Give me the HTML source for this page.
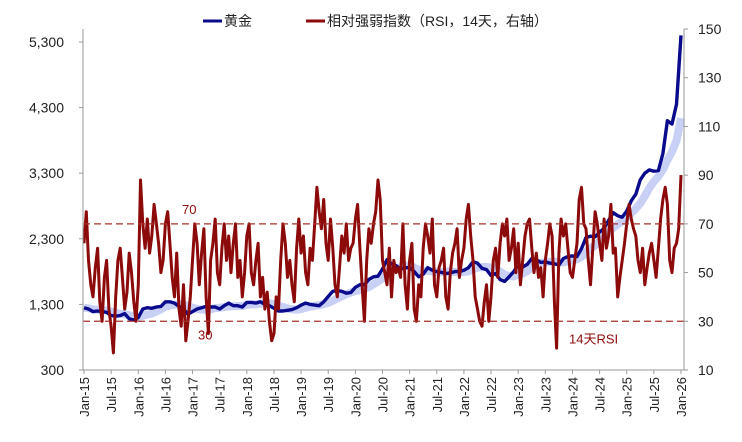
<!DOCTYPE html>
<html><head><meta charset="utf-8">
<style>
body{margin:0;background:#fff;}
svg{display:block;font-family:"Liberation Sans","Noto Sans CJK SC",sans-serif;}
</style></head>
<body>
<svg id="chart" width="742" height="442" viewBox="0 0 742 442">
<g id="plot"></g>
<g id="axes"></g>
<g>
  <g>
    <line x1="203" y1="21" x2="222" y2="21" stroke="#0a0a8c" stroke-width="3"/>
    <text x="224" y="26" font-size="14" fill="#222">黄金</text>
  </g>
  <g>
    <line x1="306" y1="21" x2="325" y2="21" stroke="#8c0a0a" stroke-width="3"/>
    <text x="327" y="26" font-size="14" fill="#222">相对强弱指数（RSI，14天，右轴）</text>
  </g>
</g>
</svg>
<script>
const leftTicks=[300,1300,2300,3300,4300,5300];
const rightTicks=[10,30,50,70,90,110,130,150];
const xLabels=["Jan-15","Jul-15","Jan-16","Jul-16","Jan-17","Jul-17","Jan-18","Jul-18","Jan-19","Jul-19","Jan-20","Jul-20","Jan-21","Jul-21","Jan-22","Jul-22","Jan-23","Jul-23","Jan-24","Jul-24","Jan-25","Jul-25","Jan-26"];
const gold=[1250,1230,1190,1200,1190,1180,1130,1120,1130,1160,1080,1060,
1100,1230,1250,1240,1260,1270,1340,1340,1320,1270,1230,1150,
1190,1230,1250,1270,1260,1260,1230,1280,1320,1280,1280,1260,
1330,1330,1320,1340,1300,1280,1240,1200,1200,1210,1220,1250,
1290,1320,1300,1290,1280,1340,1420,1500,1510,1500,1470,1480,
1560,1600,1600,1680,1720,1730,1840,1980,1920,1890,1840,1860,
1860,1800,1720,1760,1860,1820,1800,1790,1770,1780,1800,1800,
1820,1860,1950,1930,1850,1830,1740,1770,1680,1650,1720,1800,
1900,1870,1910,2000,1980,1940,1950,1930,1920,1900,2000,2030,
2040,2030,2150,2320,2340,2330,2400,2460,2580,2700,2650,2630,
2720,2880,2980,3200,3300,3350,3330,3340,3600,4100,4050,4350,
5400];
const rsi=[62,75,55,45,40,52,60,38,30,48,55,35,28,17,40,55,60,48,35,42,58,50,38,30,
45,88,70,60,72,58,65,78,70,62,50,55,70,75,62,48,40,58,35,28,45,22,30,40,
55,70,62,45,58,68,40,25,55,62,72,50,45,60,70,55,65,50,62,70,48,55,40,50,
65,70,50,45,55,62,40,48,35,42,30,22,25,40,35,55,70,62,48,55,45,38,60,72,
58,65,50,45,60,55,70,85,75,68,80,62,55,72,60,45,40,52,65,58,70,55,60,62,
72,78,60,45,30,55,68,62,70,75,88,80,55,50,45,60,40,55,50,52,48,70,45,35,
55,62,35,30,45,40,60,70,65,58,72,45,40,52,55,60,40,35,50,58,62,68,48,55,
60,72,78,65,55,40,35,30,28,38,45,30,40,55,60,48,62,70,65,72,55,60,68,50,
62,45,55,65,70,72,60,50,58,48,52,40,55,62,70,65,38,19,58,72,65,70,60,50,
48,55,62,80,85,70,68,55,45,60,75,70,62,55,72,60,65,78,58,60,40,48,55,62,
70,78,72,68,65,55,50,60,45,52,58,62,55,48,60,72,80,85,78,55,50,60,62,68,
90];
const refLevels=[70,30];

const NS="http://www.w3.org/2000/svg";
const X0=84,X1=681,AXL=83,AXR=684,YB=370,YT=29;
const months=132;
const xM=m=>X0+(X1-X0)*m/months;
const yL=v=>370-(v-300)*(328/5000);
const yR=v=>370-(v-10)*(341/140);
function mk(tag,attrs,parent){const e=document.createElementNS(NS,tag);for(const k in attrs)e.setAttribute(k,attrs[k]);parent.appendChild(e);return e;}
const plot=document.getElementById('plot'),axes=document.getElementById('axes');

const ma=gold.map((v,i)=>{const s=gold.slice(Math.max(0,i-5),i+1);return s.reduce((a,b)=>a+b,0)/s.length;});
let d=ma.map((v,i)=>(i?'L':'M')+xM(i).toFixed(1)+','+yL(v).toFixed(1)).join('');
let band=mk('path',{d:d,fill:'none',stroke:'#c8d0f6','stroke-width':8,'stroke-linejoin':'round'},plot);



d=gold.map((v,i)=>(i?'L':'M')+xM(i).toFixed(1)+','+yL(v).toFixed(1)).join('');
let gl=mk('path',{d:d,fill:'none',stroke:'#0a0a8c','stroke-width':3.4,'stroke-linejoin':'round'},plot);



const step=months/(rsi.length-1);
d=rsi.map((v,i)=>(i?'L':'M')+xM(i*step).toFixed(1)+','+yR(v).toFixed(1)).join('');
let rl=mk('path',{d:d,fill:'none',stroke:'#8c0a0a','stroke-width':3,'stroke-linejoin':'round'},plot);



refLevels.forEach(v=>{
  const l=mk('line',{x1:AXL,x2:AXR,y1:yR(v),y2:yR(v),stroke:'#a8302a','stroke-width':1.2,'stroke-dasharray':'7,4'},plot);
  
  
});
let t=mk('text',{x:182,y:yR(70)-10,'font-size':13,fill:'#8c0a0a'},plot);t.textContent='70';


t=mk('text',{x:198,y:yR(30)+18,'font-size':13,fill:'#8c0a0a'},plot);t.textContent='30';


t=mk('text',{x:569,y:yR(30)+22,'font-size':13,fill:'#8c0a0a'},plot);t.textContent='14天RSI';



mk('line',{x1:AXL,x2:AXL,y1:YT,y2:YB,stroke:'#999','stroke-width':1},axes);
mk('line',{x1:AXR,x2:AXR,y1:YT,y2:YB,stroke:'#999','stroke-width':1},axes);
mk('line',{x1:AXL,x2:AXR,y1:YB,y2:YB,stroke:'#999','stroke-width':1},axes);
leftTicks.forEach(v=>{
  mk('line',{x1:AXL-4,x2:AXL,y1:yL(v),y2:yL(v),stroke:'#999'},axes);
  const e=mk('text',{x:64,y:yL(v)+5,'font-size':14,'text-anchor':'end',fill:'#222'},axes);
  e.textContent=v.toLocaleString('en-US');
  
  
});
rightTicks.forEach(v=>{
  mk('line',{x1:AXR,x2:AXR+4,y1:yR(v),y2:yR(v),stroke:'#999'},axes);
  const e=mk('text',{x:698,y:yR(v)+5,'font-size':14,fill:'#222'},axes);
  e.textContent=v;
  
  
});
xLabels.forEach((s,i)=>{
  const x=xM(i*6);
  mk('line',{x1:x,x2:x,y1:YB,y2:YB+4,stroke:'#999'},axes);
  const e=mk('text',{x:0,y:0,'font-size':13,'text-anchor':'end',fill:'#222',transform:`translate(${x+5},377) rotate(-90)`},axes);
  e.textContent=s;
  
  
});
</script>
</body></html>
